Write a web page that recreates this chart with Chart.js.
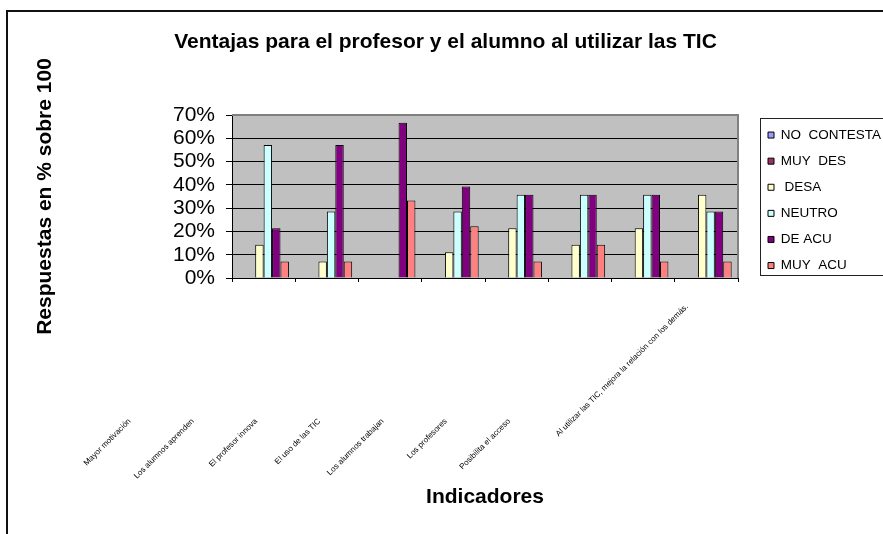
<!DOCTYPE html>
<html><head><meta charset="utf-8">
<script src="https://cdn.jsdelivr.net/npm/chart.js@4/dist/chart.umd.min.js"></script>
<style>html,body{margin:0;padding:0;background:#fff;overflow:hidden;}</style>
</head><body>
<canvas id="c" width="883" height="534"></canvas>
<script>
const chartTitle = 'Ventajas para el profesor y el alumno al utilizar las TIC';
const yAxisTitle = 'Respuestas en % sobre 100';
const xAxisTitle = 'Indicadores';
const categories = [
  'Mayor motivación',
  'Los alumnos aprenden',
  'El profesor innova',
  'El uso de las TIC',
  'Los alumnos trabajan',
  'Los profesores',
  'Posibilita el acceso',
  'Al utilizar las TIC, mejora la relación con los demás.'
];
const seriesNames = ['NO  CONTESTA', 'MUY  DES', ' DESA', 'NEUTRO', 'DE ACU', 'MUY  ACU'];
const noContesta = [0, 0, 0, 0, 0, 0, 0, 0];
const muyDes     = [0, 0, 0, 0, 0, 0, 0, 0];
const desa       = [14.3, 7.1, 0, 11.1, 21.4, 14.3, 21.4, 35.7];
const neutro     = [57.1, 28.6, 0, 28.6, 35.7, 35.7, 35.7, 28.6];
const deAcu      = [21.4, 57.1, 66.7, 39.3, 35.7, 35.7, 35.7, 28.6];
const muyAcu     = [7.1, 7.1, 33.3, 22.2, 7.1, 14.3, 7.1, 7.1];
const yTickLabels = ['0%', '10%', '20%', '30%', '40%', '50%', '60%', '70%'];
const seriesColors = ['#9999FF', '#993366', '#FFFFCC', '#CCFFFF', '#800080', '#FF8080'];

const FONT = '"Liberation Sans", Arial, sans-serif';
const LABEL_SHIFT_X = 134;   // x labels drawn left of their category
const LABEL_DROP_Y = 142;    // below the axis line
const LONG_LABEL_LIFT = 162; // long last label lifted along its direction

const seriesValues = [noContesta, muyDes, desa, neutro, deAcu, muyAcu];

const deco = {
  id: 'deco',
  beforeDraw(chart) {
    const {ctx, chartArea: a} = chart;
    ctx.save();
    ctx.fillStyle = '#fff';
    ctx.fillRect(0, 0, chart.width, chart.height);
    ctx.strokeStyle = '#111';
    ctx.lineWidth = 2;
    ctx.strokeRect(7, 11, chart.width + 20, chart.height + 20);
    ctx.fillStyle = '#C0C0C0';
    ctx.fillRect(a.left, a.top, a.right - a.left, a.bottom - a.top);
    ctx.restore();
  },
  afterDraw(chart) {
    const {ctx, chartArea: a} = chart;
    ctx.save();
    ctx.strokeStyle = '#808080';
    ctx.lineWidth = 2;
    ctx.beginPath();
    ctx.moveTo(a.left, a.top);
    ctx.lineTo(a.right, a.top);
    ctx.lineTo(a.right, a.bottom);
    ctx.stroke();
    const lg = chart.legend;
    const hb = lg.legendHitBoxes;
    if (hb && hb.length) {
      const top = hb[0].top - 10;
      const last = hb[hb.length - 1];
      const bottom = last.top + last.height + 3;
      ctx.strokeStyle = '#222';
      ctx.lineWidth = 1;
      ctx.strokeRect(Math.round(lg.left + 4.6) + 0.5, Math.round(top) + 0.5, chart.width, Math.round(bottom - top));
    }
    const xs = chart.scales.x;
    ctx.fillStyle = '#000';
    ctx.font = '8px ' + FONT;
    ctx.textAlign = 'right';
    ctx.textBaseline = 'middle';
    categories.forEach((lab, i) => {
      let x = xs.getPixelForValue(i) - LABEL_SHIFT_X;
      let y = xs.top + LABEL_DROP_Y;
      if (i === categories.length - 1) {
        x += LONG_LABEL_LIFT * Math.SQRT1_2;
        y -= LONG_LABEL_LIFT * Math.SQRT1_2;
      }
      ctx.save();
      ctx.translate(x, y);
      ctx.rotate(-Math.PI / 4);
      ctx.fillText(lab, 0, 0);
      ctx.restore();
    });
    ctx.restore();
  }
};

new Chart(document.getElementById('c'), {
  type: 'bar',
  data: {
    labels: categories,
    datasets: seriesNames.map((n, k) => ({
      label: n,
      data: seriesValues[k],
      backgroundColor: seriesColors[k],
      borderColor: '#000',
      borderWidth: 1,
      yAxisID: 'y',
      xAxisID: 'x'
    }))
  },
  options: {
    responsive: false,
    animation: false,
    devicePixelRatio: 1,
    layout: {padding: {left: 8, right: 0, top: 0, bottom: 24.4}},
    datasets: {bar: {categoryPercentage: 0.8, barPercentage: 1}},
    plugins: {
      title: {
        display: true, text: chartTitle, color: '#000',
        font: {family: FONT, size: 21, weight: 'bold'},
        padding: {top: 29.4, bottom: 60.4}
      },
      legend: {
        position: 'right', align: 'start', maxWidth: 127.6,
        title: {display: true, text: '', font: {family: FONT, size: 10}, padding: {top: 103.7, bottom: 0}},
        labels: {
          color: '#000', font: {family: FONT, size: 13.5},
          boxWidth: 6, boxHeight: 6, padding: 12.6
        }
      },
      tooltip: {enabled: false}
    },
    scales: {
      x: {
        grid: {drawOnChartArea: false, drawTicks: true, tickLength: 4, color: '#000'},
        border: {color: '#000'},
        ticks: {display: false},
        title: {display: true, text: xAxisTitle, color: '#000', padding: 0,
                font: {family: FONT, size: 21, weight: 'bold'}},
        afterFit(s) { s.height = 231.6; }
      },
      y: {
        min: 0, max: 70,
        ticks: {stepSize: 10, autoSkip: false, color: '#000', padding: 11,
                font: {family: FONT, size: 21},
                callback: (v, i) => yTickLabels[i]},
        grid: {color: '#000', tickLength: 6},
        border: {color: '#000'},
        title: {display: true, text: yAxisTitle, color: '#000', padding: {top: 25, bottom: 0},
                font: {family: FONT, size: 21, weight: 'bold'}},
        afterFit(s) { s.width = 224; }
      },
      spacer: {
        type: 'linear', position: 'right', display: true,
        grid: {display: false}, border: {display: false}, ticks: {display: false},
        afterFit(s) { s.width = 17.4; }
      }
    }
  },
  plugins: [deco]
});
</script>
</body></html>
